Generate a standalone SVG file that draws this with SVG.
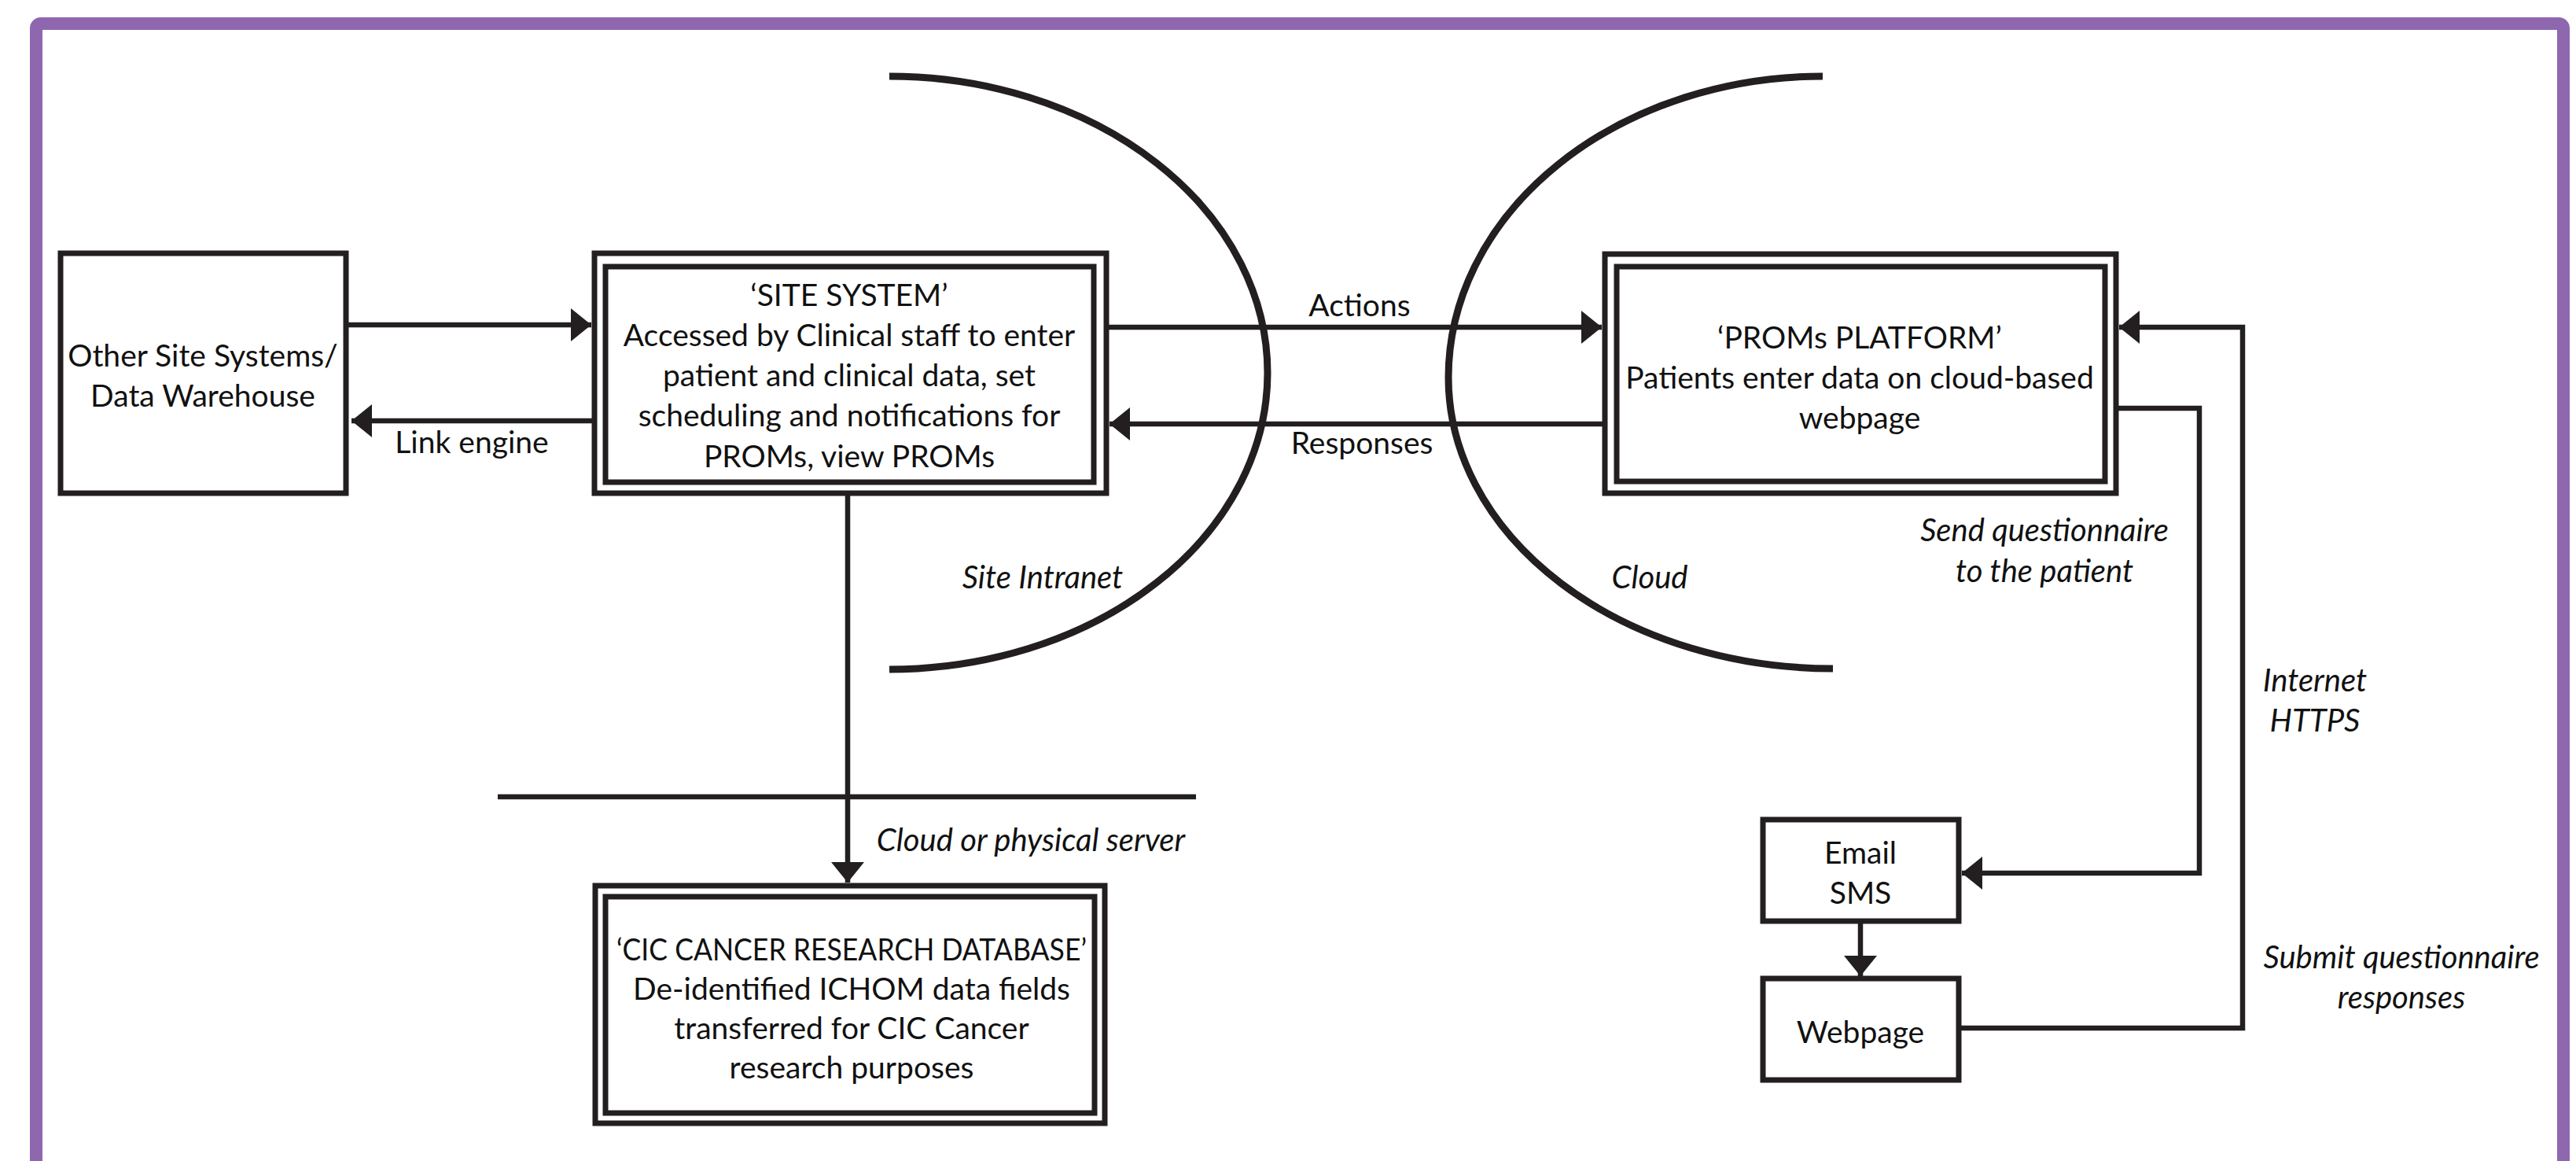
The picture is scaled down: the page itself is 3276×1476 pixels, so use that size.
<svg xmlns="http://www.w3.org/2000/svg" width="3276" height="1476" viewBox="0 0 3276 1476">
<style>
.bg{fill:#ffffff}
.frame{fill:none;stroke:#8F67AF;stroke-width:16}
.box{fill:#ffffff;stroke:#231F20;stroke-width:7}
.conn{fill:none;stroke:#231F20;stroke-width:6.5}
.arc{fill:none;stroke:#231F20;stroke-width:9}
.t{font-family:Lato,"Open Sans","Liberation Sans",sans-serif;font-size:39px;fill:#111111;text-anchor:middle}
.i{font-style:italic;font-size:40px}
</style>
<defs>
<marker id="ah" markerUnits="userSpaceOnUse" markerWidth="26" markerHeight="42" viewBox="0 0 26 42" refX="26" refY="21" orient="auto">
<path d="M0,0 L26,21 L0,42 z" fill="#231F20"/>
</marker>
</defs>
<rect class="bg" x="0" y="0" width="3276" height="1476"/>
<rect class="frame" x="46" y="30" width="3214" height="1520" rx="6"/>

<g id="boundaries">
<path class="arc" d="M1131,97 A481,377 0 0 1 1612,474 A481,377 0 0 1 1131,851"/>
<path class="arc" d="M2318,97 A476,383 0 0 0 1842,480 A489,370 0 0 0 2331,850"/>
<line class="conn" x1="633" y1="1013" x2="1521" y2="1013"/>
<text class="t i" x="1326" y="748">Site Intranet</text>
<text class="t i" x="2098" y="748">Cloud</text>
<text class="t i" x="1311" y="1082">Cloud or physical server</text>
</g>

<g id="connectors">
<line class="conn" x1="443" y1="413" x2="752" y2="413" marker-end="url(#ah)"/>
<line class="conn" x1="756" y1="535" x2="447" y2="535" marker-end="url(#ah)"/>
<line class="conn" x1="1407" y1="416" x2="2037" y2="416" marker-end="url(#ah)"/>
<line class="conn" x1="2041" y1="539" x2="1411" y2="539" marker-end="url(#ah)"/>
<path class="conn" d="M1078,627 L1078,1122" marker-end="url(#ah)"/>
<path class="conn" d="M2691,519 L2797,519 L2797,1110 L2495,1110" marker-end="url(#ah)"/>
<path class="conn" d="M2491,1307 L2852,1307 L2852,416 L2695,416" marker-end="url(#ah)"/>
<path class="conn" d="M2366,1171 L2366,1241" marker-end="url(#ah)"/>
<text class="t" x="600" y="576">Link engine</text>
<text class="t" x="1729" y="402">Actions</text>
<text class="t" x="1732" y="577">Responses</text>
<text class="t i" x="2600" y="688">Send questionnaire</text>
<text class="t i" x="2600" y="740">to the patient</text>
<text class="t i" x="2944" y="879">Internet</text>
<text class="t i" x="2944" y="930">HTTPS</text>
<text class="t i" x="3054" y="1231">Submit questionnaire</text>
<text class="t i" x="3054" y="1282">responses</text>
</g>

<g id="other-site-systems">
<rect class="box" x="77" y="322" width="363" height="305"/>
<text class="t" x="258" y="466">Other Site Systems/</text>
<text class="t" x="258" y="517">Data Warehouse</text>
</g>

<g id="site-system">
<rect class="box" x="756" y="322" width="651" height="305"/>
<rect class="box" x="770" y="339" width="621" height="274"/>
<text class="t" x="1080" y="389">‘SITE SYSTEM’</text>
<text class="t" x="1080" y="440">Accessed by Clinical staff to enter</text>
<text class="t" x="1080" y="491">patient and clinical data, set</text>
<text class="t" x="1080" y="542">scheduling and notifications for</text>
<text class="t" x="1080" y="594">PROMs, view PROMs</text>
</g>

<g id="proms-platform">
<rect class="box" x="2041" y="323" width="650" height="304"/>
<rect class="box" x="2056" y="339" width="621" height="273"/>
<text class="t" x="2365" y="443">‘PROMs PLATFORM’</text>
<text class="t" x="2365" y="494">Patients enter data on cloud-based</text>
<text class="t" x="2365" y="545">webpage</text>
</g>

<g id="cic-database">
<rect class="box" x="757" y="1126" width="648" height="302"/>
<rect class="box" x="770" y="1140" width="622" height="275"/>
<text class="t" x="1083" y="1221" textLength="598" lengthAdjust="spacingAndGlyphs">‘CIC CANCER RESEARCH DATABASE’</text>
<text class="t" x="1083" y="1271">De-identified ICHOM data fields</text>
<text class="t" x="1083" y="1321">transferred for CIC Cancer</text>
<text class="t" x="1083" y="1371">research purposes</text>
</g>

<g id="email-sms">
<rect class="box" x="2242" y="1042" width="249" height="129"/>
<text class="t" x="2366" y="1098">Email</text>
<text class="t" x="2366" y="1149">SMS</text>
</g>

<g id="webpage">
<rect class="box" x="2242" y="1244" width="249" height="129"/>
<text class="t" x="2366" y="1326">Webpage</text>
</g>
</svg>
